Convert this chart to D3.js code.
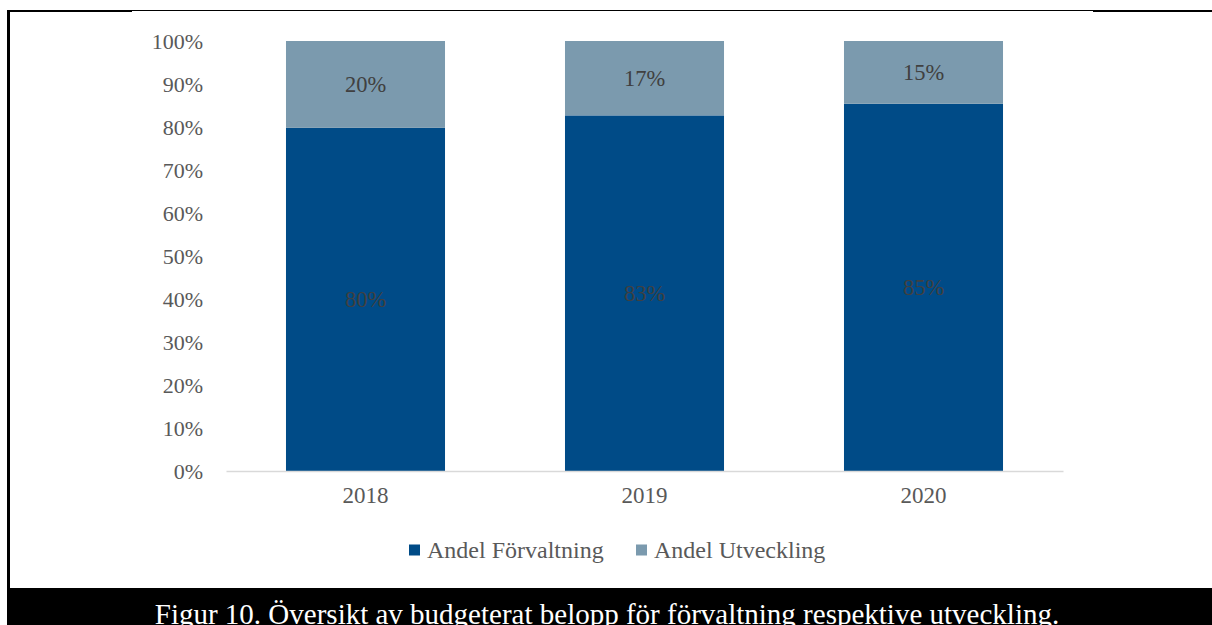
<!DOCTYPE html>
<html>
<head>
<meta charset="utf-8">
<script src="https://cdn.jsdelivr.net/npm/d3@7"></script>
<style>
  body { margin: 0; background: #fff; }
  svg { display: block; }
</style>
</head>
<body>
<svg id="chart"></svg>
<script>
// data
const years = ['2018', '2019', '2020'];
const forvaltning = [79.8, 82.7, 85.4];
const utveckling = [20.2, 17.3, 14.6];
const seriesNames = ['Andel Förvaltning', 'Andel Utveckling'];
const yTicks = [0, 10, 20, 30, 40, 50, 60, 70, 80, 90, 100];
const caption = 'Figur 10. Översikt av budgeterat belopp för förvaltning respektive utveckling.';

const W = 1212, H = 625;
const colors = ['#004b87', '#7b9aae'];
const font = '"Liberation Serif", "Times New Roman", serif';

const svg = d3.select('#chart')
  .attr('width', W)
  .attr('height', H);

// frame lines
svg.append('rect').attr('x', 7).attr('y', 10).attr('width', 3).attr('height', 580).attr('fill', '#000');
svg.append('rect').attr('x', 7).attr('y', 10).attr('width', 125).attr('height', 2).attr('fill', '#000');
svg.append('rect').attr('x', 132).attr('y', 10).attr('width', 961).attr('height', 1).attr('fill', '#000');
svg.append('rect').attr('x', 1093).attr('y', 10).attr('width', 119).attr('height', 2).attr('fill', '#000');

// caption band
svg.append('rect').attr('x', 7).attr('y', 588).attr('width', W - 7).attr('height', H - 588).attr('fill', '#000');
svg.append('text')
  .attr('x', 607).attr('y', 624)
  .attr('text-anchor', 'middle')
  .style('font-family', font).style('font-size', '29px')
  .attr('fill', '#fff')
  .text(caption);

// scales
const x = d3.scaleBand()
  .domain(years)
  .range([226, 1063])
  .paddingInner(0.43)
  .paddingOuter(0.215);
const y = d3.scaleLinear()
  .domain([0, 100])
  .range([471, 41]);

// y axis labels
const yAxis = d3.axisLeft(y)
  .tickValues(yTicks)
  .tickSize(0)
  .tickPadding(0)
  .tickFormat(d => d + '%');
const gy = svg.append('g').attr('transform', 'translate(203,0)').call(yAxis);
gy.select('.domain').remove();
gy.selectAll('text')
  .style('font-family', font).style('font-size', '22px')
  .attr('fill', '#595959');

// stacked bars
const rows = years.map((yr, i) => ({ year: yr, f: forvaltning[i], u: utveckling[i] }));
const stack = d3.stack().keys(['f', 'u'])(rows);

const groups = svg.selectAll('.layer')
  .data(stack)
  .join('g')
    .attr('class', 'layer')
    .attr('fill', (d, i) => colors[i]);

groups.selectAll('rect')
  .data(d => d)
  .join('rect')
    .attr('x', d => x(d.data.year))
    .attr('width', x.bandwidth())
    .attr('y', d => y(d[1]))
    .attr('height', d => y(d[0]) - y(d[1]));

groups.selectAll('text')
  .data(d => d)
  .join('text')
    .attr('x', d => x(d.data.year) + x.bandwidth() / 2)
    .attr('y', d => (y(d[0]) + y(d[1])) / 2)
    .attr('dy', '0.35em')
    .attr('text-anchor', 'middle')
    .style('font-family', font).style('font-size', '22.5px')
    .attr('fill', '#404040')
    .text(d => Math.round(d[1] - d[0]) + '%');

// x axis
const xAxis = d3.axisBottom(x).tickSize(0).tickPadding(16);
const gx = svg.append('g').attr('transform', 'translate(0,471)').call(xAxis);
gx.select('.domain').attr('stroke', '#d9d9d9').attr('stroke-width', 1.5);
gx.selectAll('text')
  .style('font-family', font).style('font-size', '23px')
  .attr('fill', '#595959');

// legend
const legendX = [409, 636];
const legend = svg.selectAll('.legend')
  .data(seriesNames)
  .join('g')
    .attr('class', 'legend')
    .attr('transform', (d, i) => `translate(${legendX[i]},550)`);
legend.append('rect')
  .attr('x', 0).attr('y', -5.5)
  .attr('width', 11).attr('height', 11)
  .attr('fill', (d, i) => colors[i]);
legend.append('text')
  .attr('x', 18).attr('dy', '0.35em')
  .style('font-family', font).style('font-size', '24px')
  .attr('fill', '#595959')
  .text(d => d);
</script>
</body>
</html>
